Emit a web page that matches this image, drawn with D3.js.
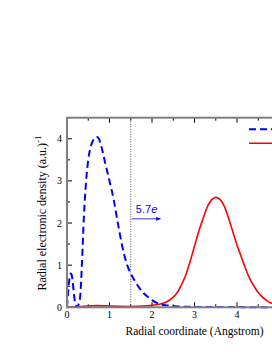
<!DOCTYPE html>
<html>
<head>
<meta charset="utf-8">
<script src="https://cdn.jsdelivr.net/npm/d3@7"></script>
<style>
body{margin:0;background:#fff;overflow:hidden}
svg{display:block}
</style>
</head>
<body>
<svg id="chart" width="272" height="352"></svg>
<script>
// radial density, blue dashed curve (x in Angstrom, y in (a.u.)^-1)
var blueX=[0,0.03,0.06,0.09,0.12,0.15,0.18,0.21,0.24,0.27,0.31,0.35,0.4,0.45,0.5,0.55,0.6,0.65,0.7,0.75,0.8,0.9,1.0,1.1,1.2,1.3,1.4,1.5,1.6,1.7,1.8,1.9,2.0,2.1,2.2,2.4,2.6,3.0,4.0,5.0];
var blueY=[0,0.4,0.7,0.8,0.72,0.45,0.17,0.04,0,0.06,0.25,1.0,2.2,3.0,3.5,3.78,3.93,4.01,4.04,4.0,3.85,3.42,3.0,2.55,1.98,1.45,1.05,0.8,0.62,0.46,0.34,0.25,0.17,0.11,0.07,0.04,0.02,0.01,0.005,0];
// red solid curve
var redX=[0,0.3,0.7,1.0,1.5,1.8,2.0,2.2,2.35,2.5,2.6,2.7,2.8,2.9,3.0,3.1,3.2,3.3,3.4,3.5,3.6,3.7,3.8,3.9,4.0,4.1,4.2,4.3,4.4,4.5,4.6,4.7,4.8,5.0];
var redY=[0,0.02,0.04,0.03,0.02,0.03,0.05,0.08,0.13,0.24,0.36,0.55,0.78,1.1,1.45,1.8,2.1,2.38,2.55,2.61,2.56,2.4,2.12,1.8,1.48,1.2,0.92,0.68,0.5,0.35,0.24,0.16,0.1,0.05];
var xTicks=[0,1,2,3,4];
var yTicks=[0,1,2,3,4];
var cutX=1.5;
var chargeLabel="5.7";

var svg=d3.select("#chart");
var x=d3.scaleLinear().domain([0,5]).range([67,279.5]);
var y=d3.scaleLinear().domain([0,4.5]).range([307.3,117.7]);

// minor + major ticks, all pointing inward
var xMinor=d3.range(0,5.01,0.5), yMinor=d3.range(0,4.51,0.5);
var g=svg.append("g");
xMinor.forEach(function(v){
	var big=(v%1==0)?5:3;
	g.append("line").attr("x1",x(v)).attr("x2",x(v)).attr("y1",y(0)).attr("y2",y(0)-big).attr("stroke","#000").attr("stroke-width",1);
	g.append("line").attr("x1",x(v)).attr("x2",x(v)).attr("y1",y(4.5)).attr("y2",y(4.5)+big).attr("stroke","#000").attr("stroke-width",1);
});
yMinor.forEach(function(v){
	var big=(v%1==0)?5:3;
	g.append("line").attr("x1",x(0)).attr("x2",x(0)+big).attr("y1",y(v)).attr("y2",y(v)).attr("stroke","#000").attr("stroke-width",1);
});

// dotted cut line
svg.append("line")
	.attr("x1",x(cutX)).attr("x2",x(cutX))
	.attr("y1",y(0)).attr("y2",y(4.5))
	.attr("stroke","#555").attr("stroke-width",1)
	.attr("stroke-dasharray","1,1.5");

var line=d3.line().curve(d3.curveMonotoneX);
var redPts=redX.map(function(v,i){return [x(v),y(redY[i])]});
var bluePts=blueX.map(function(v,i){return [x(v),y(blueY[i])]});

svg.append("path").attr("d",line(redPts))
	.attr("fill","none").attr("stroke","#ff0000").attr("stroke-width",1.6);
svg.append("path").attr("d",line(bluePts))
	.attr("fill","none").attr("stroke","#0000ff").attr("stroke-width",2)
	.attr("stroke-dasharray","7,4");

// frame
svg.append("rect")
	.attr("x",x(0)).attr("y",y(4.5))
	.attr("width",x(5)-x(0)).attr("height",y(0)-y(4.5))
	.attr("fill","none").attr("stroke","#808080").attr("stroke-width",2);

// tick labels
xTicks.forEach(function(v){
	svg.append("text").attr("x",x(v)).attr("y",318)
		.attr("text-anchor","middle").attr("font-family","Liberation Serif, Times New Roman, serif")
		.attr("font-size",10).text(v);
});
yTicks.forEach(function(v){
	svg.append("text").attr("x",62).attr("y",y(v)+3.5)
		.attr("text-anchor","end").attr("font-family","Liberation Serif, Times New Roman, serif")
		.attr("font-size",10).text(v);
});

// axis titles
svg.append("text").attr("x",194.5).attr("y",335)
	.attr("text-anchor","middle").attr("font-family","Liberation Serif, Times New Roman, serif")
	.attr("font-size",11.5).text("Radial coordinate (Angstrom)");
var yl=svg.append("text").attr("transform","translate(46,213) rotate(-90)")
	.attr("text-anchor","middle").attr("font-family","Liberation Serif, Times New Roman, serif")
	.attr("font-size",12);
yl.append("tspan").text("Radial electronic density (a.u.)");
yl.append("tspan").attr("dy",-5).attr("font-size",9).text("-1");

// annotation arrow
svg.append("defs").append("marker").attr("id","arr")
	.attr("viewBox","0 0 10 10").attr("refX",9).attr("refY",5)
	.attr("markerWidth",6).attr("markerHeight",6).attr("orient","auto")
	.append("path").attr("d","M0,1L10,5L0,9z").attr("fill","#0000ff");
svg.append("line")
	.attr("x1",x(cutX)+1).attr("x2",x(2.2))
	.attr("y1",y(2.1)).attr("y2",y(2.1))
	.attr("stroke","#0000ff").attr("stroke-width",0.8)
	.attr("marker-end","url(#arr)");
var ann=svg.append("text").attr("x",x(1.62)).attr("y",y(2.24))
	.attr("font-family","Liberation Sans, Arial, sans-serif").attr("font-size",11).attr("fill","#0000ff");
ann.append("tspan").text(chargeLabel);
ann.append("tspan").attr("font-style","italic").text("e");

// legend (labels fall outside the picture)
svg.append("line").attr("x1",249).attr("x2",285).attr("y1",129.3).attr("y2",129.3)
	.attr("stroke","#0000ff").attr("stroke-width",2).attr("stroke-dasharray","7,4");
svg.append("line").attr("x1",249).attr("x2",285).attr("y1",143.3).attr("y2",143.3)
	.attr("stroke","#ff0000").attr("stroke-width",1.6);
</script>
</body>
</html>
